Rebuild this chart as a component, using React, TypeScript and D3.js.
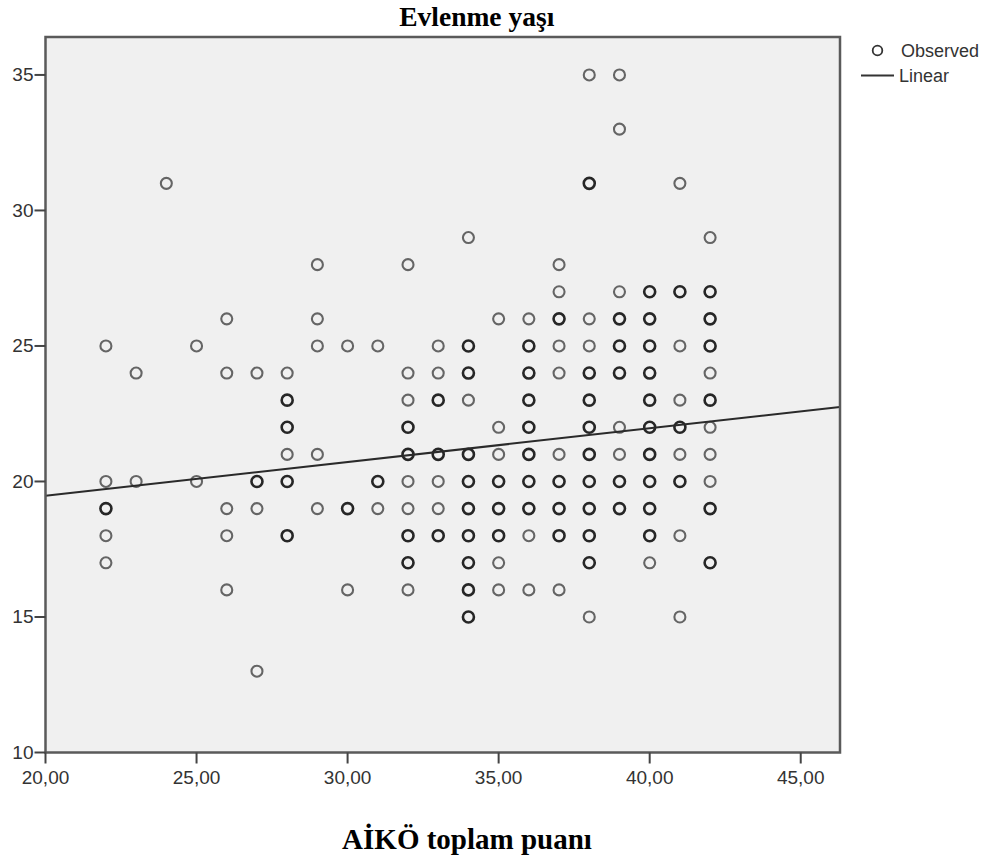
import React from "react";
import * as d3 from "d3";

// Observations per AİKÖ score (x), listing marriage ages (y); repeated values = overlapping points
const aikoScores = [22, 23, 24, 25, 26, 27, 28, 29, 30, 31, 32, 33, 34, 35, 36, 37, 38, 39, 40, 41, 42];
const agesByScore: number[][] = [
  [25, 20, 19, 19, 18, 17],
  [24, 20],
  [31],
  [25, 20],
  [26, 24, 19, 18, 16],
  [24, 20, 20, 19, 13],
  [24, 23, 23, 22, 22, 21, 20, 20, 18, 18],
  [28, 26, 25, 21, 19],
  [25, 19, 19, 16],
  [25, 20, 20, 19],
  [28, 24, 23, 22, 22, 21, 21, 20, 19, 18, 18, 17, 17, 16],
  [25, 24, 23, 23, 21, 21, 20, 19, 18, 18],
  [29, 25, 25, 24, 24, 23, 21, 21, 20, 20, 19, 19, 18, 18, 17, 17, 16, 16, 15, 15],
  [26, 22, 21, 20, 20, 19, 19, 18, 18, 17, 16],
  [26, 25, 25, 24, 24, 23, 23, 22, 22, 21, 21, 20, 20, 19, 19, 18, 16],
  [28, 27, 26, 26, 25, 24, 21, 20, 20, 19, 19, 18, 18, 16],
  [35, 31, 31, 26, 25, 24, 24, 23, 23, 22, 22, 21, 21, 20, 20, 19, 19, 18, 18, 17, 17, 15],
  [35, 33, 27, 26, 26, 25, 25, 24, 24, 22, 21, 20, 20, 19, 19],
  [27, 27, 26, 26, 25, 25, 24, 24, 23, 23, 22, 22, 21, 21, 20, 20, 19, 19, 18, 18, 17],
  [31, 27, 27, 25, 23, 22, 22, 21, 20, 20, 18, 15],
  [29, 27, 27, 26, 26, 25, 25, 24, 23, 23, 22, 21, 20, 19, 19, 17, 17],
];

const xTicks = [20, 25, 30, 35, 40, 45];
const yTicks = [10, 15, 20, 25, 30, 35];
const xDomain = [20, 46.3];
const yDomain = [10, 36.4];
// Linear fit
const fitIntercept = 16.99;
const fitSlope = 0.1243;

const chartTitle = "Evlenme yaşı";
const xTitle = "AİKÖ toplam puanı";
const legendLabels = ["Observed", "Linear"];

export default function App() {
  const W = 991, H = 862;
  const left = 45.5, right = 840, top = 37, bottom = 752.5;
  const x = d3.scaleLinear().domain(xDomain).range([left, right]);
  const y = d3.scaleLinear().domain(yDomain).range([bottom, top]);
  const fmt = (v: number) => v.toFixed(2).replace(".", ",");

  const points: { xv: number; yv: number; n: number }[] = [];
  aikoScores.forEach((s, i) => {
    const counts = d3.rollup(agesByScore[i], (v) => v.length, (d) => d);
    counts.forEach((n, a) => points.push({ xv: s, yv: a, n }));
  });

  const line = d3
    .line<number>()
    .x((d) => x(d))
    .y((d) => y(fitIntercept + fitSlope * d));

  return (
    <svg
      width={W}
      height={H}
      style={{ position: "absolute", left: 0, top: 0, background: "#fff" }}
    >
      <rect x={left} y={top} width={right - left} height={bottom - top} fill="#f0f0f0" />
      <defs>
        <clipPath id="plotClip">
          <rect x={left} y={top} width={right - left} height={bottom - top} />
        </clipPath>
      </defs>
      <g clipPath="url(#plotClip)">
        {points.map((p, i) => (
          <circle
            key={i}
            cx={x(p.xv)}
            cy={y(p.yv)}
            r={5.5}
            fill="none"
            stroke={p.n > 1 ? "#262626" : "#656565"}
            strokeWidth={p.n > 1 ? 2.6 : 2.1}
          />
        ))}
        <path d={line(xDomain) || ""} fill="none" stroke="#2a2a2a" strokeWidth={2} />
      </g>
      <rect
        x={left}
        y={top}
        width={right - left}
        height={bottom - top}
        fill="none"
        stroke="#5a5a5a"
        strokeWidth={2.5}
      />
      {/* Y axis ticks */}
      {yTicks.map((t) => (
        <g key={t}>
          <line x1={left - 11} x2={left} y1={y(t)} y2={y(t)} stroke="#444" strokeWidth={2} />
          <text
            x={left - 12}
            y={y(t)}
            textAnchor="end"
            dominantBaseline="central"
            fontFamily="'Liberation Sans', Arial, sans-serif"
            fontSize={19}
            fill="#333"
          >
            {t}
          </text>
        </g>
      ))}
      {/* X axis ticks */}
      {xTicks.map((t) => (
        <g key={t}>
          <line x1={x(t)} x2={x(t)} y1={bottom} y2={bottom + 11} stroke="#444" strokeWidth={2} />
          <text
            x={x(t)}
            y={bottom + 31}
            textAnchor="middle"
            fontFamily="'Liberation Sans', Arial, sans-serif"
            fontSize={19}
            fill="#333"
          >
            {fmt(t)}
          </text>
        </g>
      ))}
      <text
        x={(left + right) / 2 + 34}
        y={26}
        textAnchor="middle"
        fontFamily="'Liberation Serif', 'Times New Roman', serif"
        fontWeight="bold"
        fontSize={27.5}
        fill="#000"
      >
        {chartTitle}
      </text>
      <text
        x={467}
        y={849}
        textAnchor="middle"
        fontFamily="'Liberation Serif', 'Times New Roman', serif"
        fontWeight="bold"
        fontSize={29}
        fill="#000"
      >
        {xTitle}
      </text>
      {/* Legend */}
      <circle cx={877.5} cy={50.5} r={4.8} fill="none" stroke="#333" strokeWidth={1.8} />
      <text x={901} y={57} fontFamily="'Liberation Sans', Arial, sans-serif" fontSize={18} fill="#333">
        {legendLabels[0]}
      </text>
      <line x1={861} x2={894} y1={75.5} y2={75.5} stroke="#333" strokeWidth={2} />
      <text x={899} y={82} fontFamily="'Liberation Sans', Arial, sans-serif" fontSize={18} fill="#333">
        {legendLabels[1]}
      </text>
    </svg>
  );
}
